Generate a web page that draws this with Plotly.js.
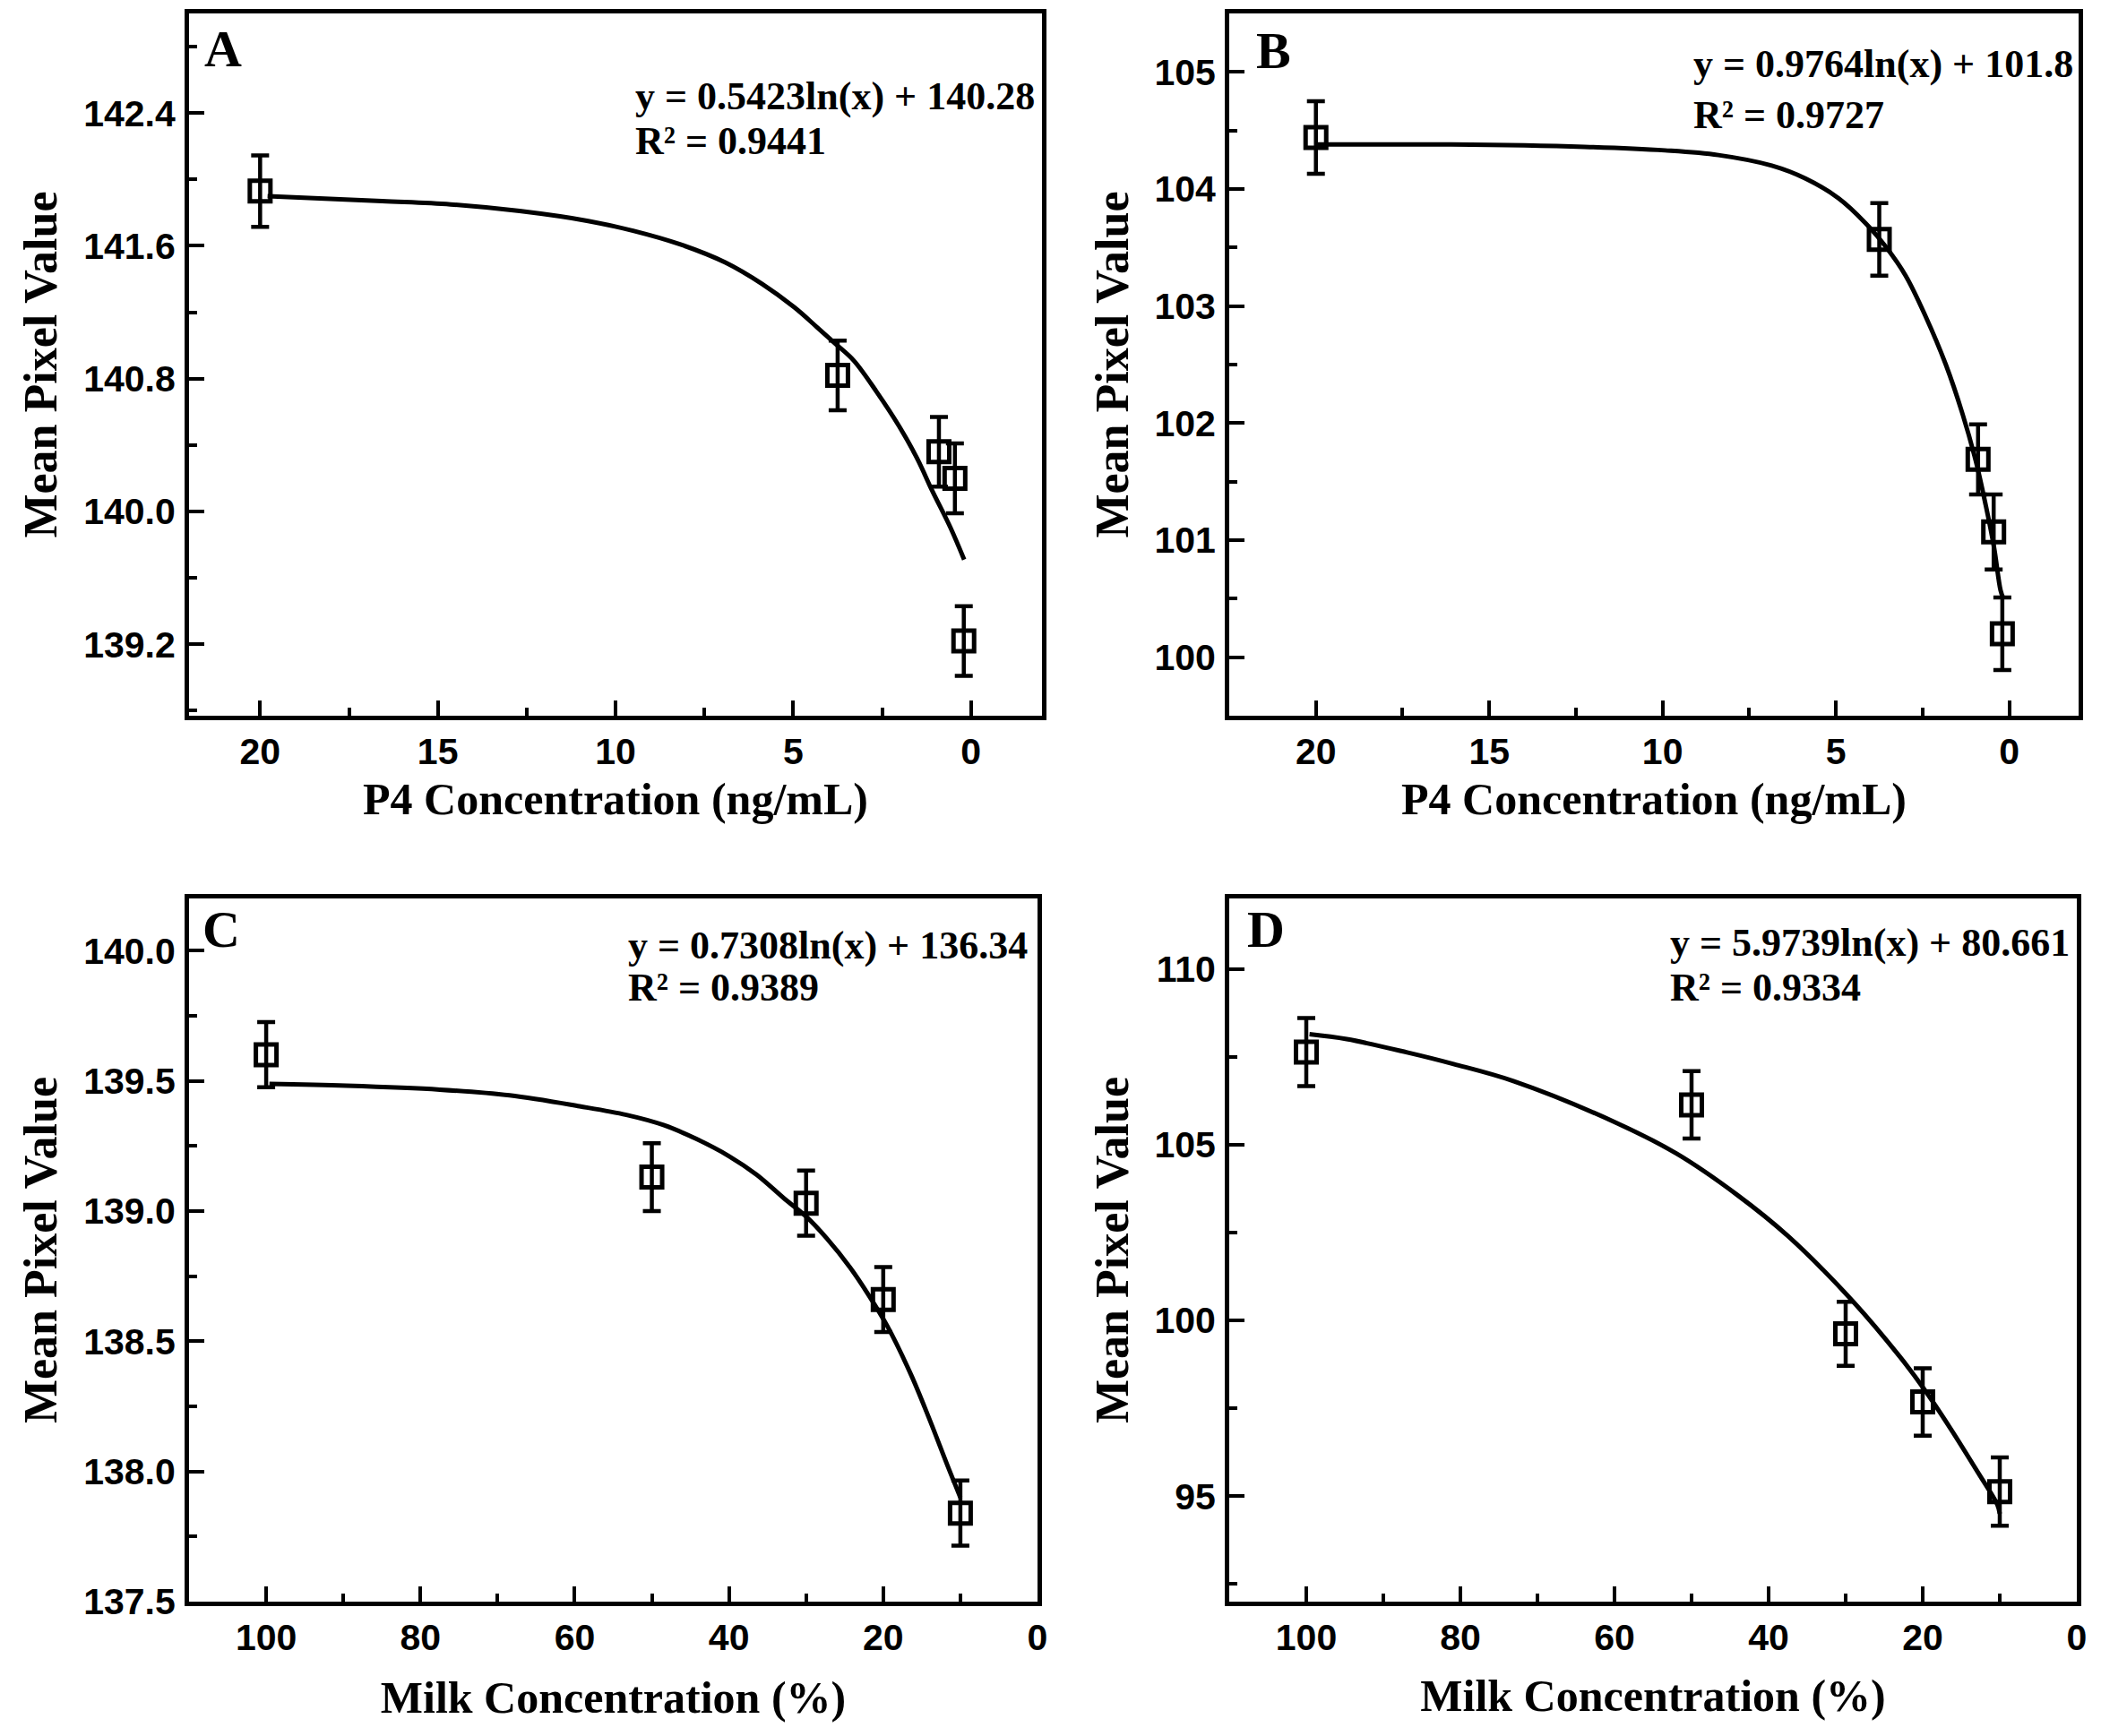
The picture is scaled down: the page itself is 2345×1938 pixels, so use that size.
<!DOCTYPE html>
<html>
<head>
<meta charset="utf-8">
<script src="https://cdn.plot.ly/plotly-3.0.1.min.js"></script>
<style>
  html, body { margin: 0; padding: 0; background: #fff; }
  #chart { width: 2345px; height: 1938px; }
</style>
</head>
<body>
<div id="chart"></div>
<script>
// ---- data ----
// A: P4 standard in buffer
var aConc = [20, 3.75, 0.9, 0.45, 0.2];
var aMean = [141.93, 140.82, 140.36, 140.20, 139.22];
var aErr = [0.215, 0.21, 0.21, 0.21, 0.21];
var aFitX = [19.79, 16.57, 14.64, 12.70, 10.77, 9.48, 8.19, 6.91, 5.87, 4.97, 4.33, 3.81, 3.30, 2.65, 2.01, 1.49, 1.10, 0.57, 0.19];
var aFitY = [141.90, 141.87, 141.85, 141.81, 141.75, 141.69, 141.61, 141.50, 141.37, 141.23, 141.11, 141.01, 140.91, 140.72, 140.51, 140.31, 140.13, 139.90, 139.71];

// B: P4 standard in milk
var bConc = [20, 3.75, 0.9, 0.45, 0.2];
var bMean = [104.44, 103.57, 101.69, 101.07, 100.20];
var bErr = [0.31, 0.31, 0.30, 0.32, 0.31];
var bFitX = [19.96, 16.1, 12.25, 9.93, 8.39, 6.85, 5.88, 4.92, 4.15, 3.57, 2.99, 2.41, 1.83, 1.35, 0.96, 0.68, 0.44, 0.25, 0.17];
var bFitY = [104.38, 104.38, 104.36, 104.33, 104.29, 104.20, 104.09, 103.92, 103.71, 103.51, 103.26, 102.91, 102.50, 102.08, 101.67, 101.30, 100.94, 100.57, 100.50];

// C and D: milk dilutions
var milkConc = [100, 50, 30, 20, 10];
var cMean = [139.60, 139.13, 139.03, 138.66, 137.84];
var cErr = [0.125, 0.13, 0.125, 0.125, 0.125];
var cFitX = [99.58, 89.6, 77.5, 68.44, 59.37, 53.3, 48.49, 44.26, 40.02, 36.4, 32.77, 30.05, 27.33, 24.3, 21.89, 19.47, 16.44, 14.03, 11.61, 10.0];
var cFitY = [139.488, 139.481, 139.466, 139.444, 139.402, 139.369, 139.330, 139.277, 139.211, 139.139, 139.046, 138.980, 138.895, 138.783, 138.677, 138.558, 138.374, 138.202, 138.018, 137.90];

var dMean = [107.63, 106.13, 99.62, 97.68, 95.13];
var dErr = [0.97, 0.96, 0.91, 0.96, 0.97];
var dFitX = [99.58, 94.75, 86.91, 80.88, 73.04, 59.77, 51.93, 44.09, 37.45, 29.01, 22.98, 19.96, 16.35, 12.73, 10.31, 10.0];
var dFitY = [108.14, 108.0, 107.62, 107.29, 106.80, 105.62, 104.74, 103.57, 102.39, 100.53, 98.97, 98.09, 96.91, 95.64, 94.76, 94.50];

var panelLetters = ['A', 'B', 'C', 'D'];
var equations = ['y = 0.5423ln(x) + 140.28', 'y = 0.9764ln(x) + 101.8', 'y = 0.7308ln(x) + 136.34', 'y = 5.9739ln(x) + 80.661'];
var rSquared = ['R\u00B2 = 0.9441', 'R\u00B2 = 0.9727', 'R\u00B2 = 0.9389', 'R\u00B2 = 0.9334'];
var xTitles = ['P4 Concentration (ng/mL)', 'P4 Concentration (ng/mL)', 'Milk Concentration (%)', 'Milk Concentration (%)'];
var yTitle = 'Mean Pixel Value';

// ---- page geometry (pixels) ----
var W = 2345, H = 1938;
function dx(l, r) { return [l / W, r / W]; }
function dy(t, b) { return [1 - b / H, 1 - t / H]; }
function px(x) { return x / W; }
function py(y) { return 1 - y / H; }

var serif = 'Liberation Serif, Times New Roman, serif';
var sans = 'Liberation Sans, Arial, sans-serif';

function pointsTrace(x, y, err, n) {
  return {
    type: 'scatter', mode: 'markers', x: x, y: y,
    xaxis: 'x' + n, yaxis: 'y' + n,
    marker: { symbol: 'square-open', size: 23, color: 'black', line: { width: 5, color: 'black' } },
    error_y: { type: 'data', array: err, visible: true, color: 'black', thickness: 4.5, width: 10 },
    showlegend: false, hoverinfo: 'x+y'
  };
}

function fitTrace(x, y, n) {
  return {
    type: 'scatter', mode: 'lines', x: x, y: y,
    xaxis: 'x' + n, yaxis: 'y' + n,
    line: { color: 'black', width: 5, shape: 'spline', smoothing: 1 },
    showlegend: false, hoverinfo: 'skip'
  };
}

var data = [
  fitTrace(aFitX, aFitY, ''), pointsTrace(aConc, aMean, aErr, ''),
  fitTrace(bFitX, bFitY, 2), pointsTrace(bConc, bMean, bErr, 2),
  fitTrace(cFitX, cFitY, 3), pointsTrace(milkConc, cMean, cErr, 3),
  fitTrace(dFitX, dFitY, 4), pointsTrace(milkConc, dMean, dErr, 4)
];

function axisBase() {
  return {
    showline: true, mirror: true, linewidth: 5, linecolor: 'black',
    ticks: 'inside', ticklen: 17, tickwidth: 4, tickcolor: 'black',
    showgrid: false, zeroline: false, automargin: false,
    tickfont: { family: sans, size: 41, weight: 'bold', color: 'black' }
  };
}

function xAxis(domain, range, dtick, minor, title, anchor, standoff) {
  var a = axisBase();
  a.domain = domain; a.range = range; a.tick0 = 0; a.dtick = dtick;
  a.anchor = anchor;
  a.minor = { ticks: 'inside', ticklen: 9, tickwidth: 4, tickcolor: 'black', dtick: minor, tick0: 0, showgrid: false };
  a.title = { text: title, font: { family: serif, size: 50, weight: 'bold', color: 'black' }, standoff: standoff };
  a.ticklabelstandoff = 0;
  return a;
}

function yAxis(domain, range, tick0, dtick, minor, fmt, anchor, standoff) {
  var a = axisBase();
  a.domain = domain; a.range = range; a.tick0 = tick0; a.dtick = dtick;
  a.anchor = anchor; a.tickformat = fmt;
  a.minor = { ticks: 'inside', ticklen: 9, tickwidth: 4, tickcolor: 'black', dtick: minor, tick0: tick0, showgrid: false };
  a.title = { text: yTitle, font: { family: serif, size: 52, weight: 'bold', color: 'black' }, standoff: standoff };
  a.ticklabelstandoff = 2;
  return a;
}

// text positions: [letter x, letter y, eq x, eq line1 y, eq line2 y]
var textPos = [
  [226, 55, 707, 107, 157],
  [1400, 56, 1888, 72, 128],
  [224, 1037, 699, 1055, 1102],
  [1390, 1037, 1862, 1052, 1102]
];

var annotations = [];
textPos.forEach(function (p, i) {
  annotations.push({ xref: 'paper', yref: 'paper', x: px(p[0]), y: py(p[1]), xanchor: 'left', yanchor: 'middle',
    text: panelLetters[i], showarrow: false, font: { family: serif, size: 58, weight: 'bold', color: 'black' } });
  annotations.push({ xref: 'paper', yref: 'paper', x: px(p[2]), y: py(p[3]), xanchor: 'left', yanchor: 'middle',
    text: equations[i], showarrow: false, font: { family: serif, size: 44, weight: 'bold', color: 'black' } });
  annotations.push({ xref: 'paper', yref: 'paper', x: px(p[2]), y: py(p[4]), xanchor: 'left', yanchor: 'middle',
    text: rSquared[i], showarrow: false, font: { family: serif, size: 44, weight: 'bold', color: 'black' } });
});

var layout = {
  width: W, height: H,
  margin: { l: 0, r: 0, t: 0, b: 0 },
  paper_bgcolor: 'white', plot_bgcolor: 'white',
  showlegend: false,
  xaxis: xAxis(dx(211, 1163), [22, -2], 5, 2.5, xTitles[0], 'y', 14),
  yaxis: yAxis(dy(15, 799), [138.77, 143.0], 139.2, 0.8, 0.4, '.1f', 'x', 14),
  xaxis2: xAxis(dx(1372, 2320), [22.5, -2], 5, 2.5, xTitles[1], 'y2', 14),
  yaxis2: yAxis(dy(15, 799), [99.5, 105.5], 100, 1, 0.5, 'd', 'x2', 14),
  xaxis3: xAxis(dx(211, 1158), [110, 0], 20, 10, xTitles[2], 'y3', 28),
  yaxis3: yAxis(dy(1003, 1788), [137.5, 140.2], 137.5, 0.5, 0.25, '.1f', 'x3', 14),
  xaxis4: xAxis(dx(1372, 2318), [110, 0], 20, 10, xTitles[3], 'y4', 26),
  yaxis4: yAxis(dy(1003, 1788), [92, 112], 95, 5, 2.5, 'd', 'x4', 14),
  annotations: annotations
};

Plotly.newPlot('chart', data, layout, { staticPlot: true });
</script>
</body>
</html>
